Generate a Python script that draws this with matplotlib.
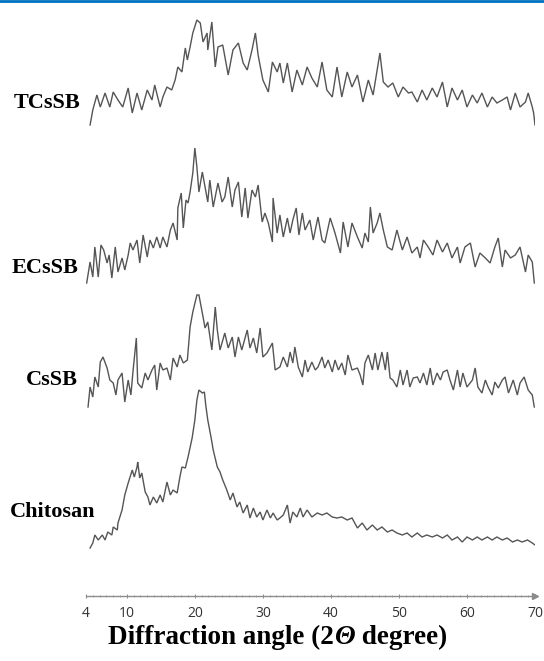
import matplotlib
matplotlib.use("Agg")
import matplotlib.pyplot as plt
from matplotlib.lines import Line2D
from matplotlib.ticker import MultipleLocator

# XRD patterns (2-theta in degrees, intensity in a.u.)
TCSSB_2T = [4.6, 5.0, 5.6, 6.1, 6.8, 7.5, 8.0, 8.7, 9.4, 10.2, 10.8, 11.5, 12.2, 13.0,
            13.7, 14.1, 14.9, 15.3, 15.9, 16.6, 17.1, 17.5, 18.1, 18.6, 18.9, 19.3,
            19.7, 20.3, 20.8, 21.2, 21.8, 21.9, 22.5, 23.0, 23.4, 24.1, 24.9, 25.6,
            26.4, 27.1, 27.7, 28.4, 28.9, 29.3, 30.0, 30.8, 31.4, 32.1, 32.5, 33.0,
            33.6, 34.3, 35.0, 35.8, 36.5, 37.2, 38.0, 38.7, 39.4, 40.2, 40.9, 41.6,
            42.4, 43.1, 43.9, 44.7, 45.5, 46.2, 47.2, 47.7, 48.4, 49.1, 49.9, 50.6,
            51.4, 51.9, 52.7, 53.4, 54.1, 54.9, 55.6, 56.4, 57.1, 57.8, 58.6, 59.3,
            60.0, 60.8, 61.5, 62.2, 63.0, 63.7, 64.4, 65.2, 65.9, 66.4, 67.1, 67.8,
            68.6, 69.0, 69.6, 69.8, 70.0]
TCSSB_I = [0, 15, 30, 18, 32, 18, 33, 25, 18, 37, 12, 32, 15, 35,
           25, 40, 18, 28, 38, 35, 45, 58, 53, 77, 65, 78,
           92, 105, 102, 83, 92, 75, 103, 58, 78, 80, 50, 75,
           82, 62, 55, 75, 92, 70, 45, 33, 63, 53, 62, 42,
           62, 33, 55, 40, 58, 47, 38, 63, 35, 28, 58, 28,
           53, 38, 50, 23, 45, 30, 72, 43, 38, 42, 28, 38,
           32, 33, 23, 35, 25, 37, 28, 43, 18, 37, 25, 35,
           18, 30, 22, 32, 18, 28, 22, 25, 28, 15, 32, 18,
           23, 32, 18, 12, 0]

ECSSB_2T = [4.1, 4.6, 5.0, 5.3, 5.8, 6.2, 6.6, 7.1, 7.4, 7.8, 8.3, 8.7, 9.3, 9.7,
            10.2, 10.5, 10.9, 11.5, 11.9, 12.4, 13.0, 13.4, 13.9, 14.4, 14.9, 15.3,
            15.9, 16.4, 16.8, 17.4, 17.5, 18.0, 18.3, 18.7, 19.0, 19.3, 19.7, 20.0,
            20.3, 20.6, 21.1, 21.5, 21.9, 22.2, 22.7, 23.4, 24.0, 24.4, 24.9, 25.5,
            25.9, 26.4, 26.9, 27.4, 27.8, 28.4, 28.9, 29.3, 29.9, 30.3, 30.8, 31.4,
            31.5, 32.1, 32.5, 33.0, 33.6, 34.0, 34.4, 34.9, 35.3, 35.8, 36.2, 36.9,
            37.4, 38.1, 38.7, 39.1, 39.9, 40.6, 41.4, 41.8, 42.5, 43.1, 43.9, 44.6,
            45.0, 45.5, 45.8, 46.2, 46.8, 47.2, 47.7, 48.3, 49.0, 49.7, 50.5, 51.2,
            51.9, 52.7, 53.1, 53.6, 54.3, 55.0, 55.6, 56.4, 57.1, 57.8, 58.6, 59.0,
            59.7, 60.5, 61.2, 61.9, 62.7, 63.4, 64.1, 64.6, 65.2, 65.6, 66.4, 67.1,
            67.8, 68.6, 69.0, 69.6, 69.9]
ECSSB_I = [0, 21, 6, 36, 6, 38, 33, 20, 28, 5, 36, 11, 25, 13,
           28, 40, 33, 43, 20, 48, 26, 43, 35, 46, 35, 46,
           36, 53, 60, 43, 75, 90, 55, 83, 80, 91, 110, 135,
           116, 91, 111, 96, 81, 103, 76, 100, 81, 86, 106, 76,
           93, 101, 66, 95, 65, 93, 86, 98, 61, 70, 60, 41,
           85, 50, 68, 46, 65, 50, 63, 75, 48, 70, 53, 63,
           43, 66, 43, 40, 65, 50, 30, 61, 36, 60, 46, 35,
           50, 41, 76, 50, 60, 70, 53, 36, 33, 53, 33, 46,
           30, 36, 25, 43, 36, 28, 43, 31, 40, 25, 36, 20,
           36, 40, 16, 30, 25, 20, 36, 45, 16, 33, 25, 28,
           36, 11, 28, 21, 0]

CSSB_2T = [4.3, 4.6, 5.0, 5.3, 5.8, 6.1, 6.5, 7.1, 7.5, 8.0, 8.4, 8.7, 9.3, 9.7,
           10.2, 10.6, 10.9, 11.4, 11.6, 12.2, 12.7, 13.1, 13.7, 14.1, 14.4, 14.9,
           15.3, 15.9, 16.4, 16.8, 17.4, 17.8, 18.3, 18.9, 19.3, 19.7, 20.3, 20.6,
           21.1, 21.5, 21.9, 22.5, 23.0, 23.3, 23.7, 24.4, 24.9, 25.5, 25.9, 26.4,
           26.9, 27.7, 28.1, 28.6, 29.1, 29.6, 30.0, 30.6, 31.4, 31.8, 32.5, 33.0,
           33.6, 34.0, 34.4, 34.7, 35.2, 35.8, 36.2, 36.6, 37.2, 37.7, 38.1, 38.7,
           39.1, 39.6, 40.2, 40.6, 41.1, 41.6, 42.1, 42.5, 43.1, 43.9, 44.3, 44.7,
           45.0, 45.5, 46.1, 46.5, 46.9, 47.5, 48.0, 48.3, 48.7, 49.1, 49.7, 50.2,
           50.6, 51.2, 51.6, 52.1, 52.7, 53.1, 53.6, 54.1, 54.6, 55.0, 55.6, 56.1,
           56.5, 57.1, 57.5, 58.0, 58.6, 59.0, 59.4, 60.0, 60.8, 61.2, 61.6, 62.2,
           62.7, 63.1, 63.7, 64.1, 64.6, 65.2, 65.6, 66.1, 66.8, 67.4, 67.8, 68.4,
           69.0, 69.6, 69.9]
CSSB_I = [0, 20, 10, 30, 20, 45, 50, 39, 27, 24, 12, 27, 34, 5,
          27, 12, 35, 69, 24, 19, 34, 27, 37, 42, 17, 44,
          37, 39, 27, 49, 40, 52, 44, 47, 80, 95, 112, 112,
          94, 79, 85, 57, 100, 77, 57, 74, 59, 70, 50, 70,
          57, 77, 59, 69, 54, 79, 50, 54, 64, 37, 40, 50,
          40, 55, 44, 60, 40, 30, 47, 35, 45, 37, 40, 50,
          39, 47, 35, 47, 37, 44, 32, 52, 37, 39, 32, 22,
          44, 52, 37, 54, 37, 55, 37, 55, 29, 27, 20, 37,
          22, 37, 20, 29, 30, 24, 34, 22, 39, 22, 34, 27,
          35, 37, 27, 17, 37, 20, 34, 20, 27, 39, 20, 14,
          27, 20, 12, 25, 19, 27, 30, 14, 27, 12, 24, 30,
          17, 12, 0]

CHITOSAN_2T = [4.6, 5.0, 5.3, 5.8, 6.4, 6.8, 7.2, 7.8, 8.0, 8.6, 8.7, 9.3, 9.7, 10.2,
               10.8, 11.1, 11.5, 11.6, 11.9, 12.2, 12.7, 13.1, 13.4, 13.9, 14.4, 14.9,
               15.3, 15.9, 16.4, 16.8, 17.4, 17.8, 18.1, 18.6, 19.0, 19.6, 20.0, 20.3,
               20.6, 21.1, 21.4, 21.6, 21.9, 22.4, 22.7, 23.3, 23.7, 24.1, 24.7, 25.2,
               25.6, 26.2, 26.6, 27.1, 27.7, 28.1, 28.6, 29.1, 29.6, 30.0, 30.6, 31.1,
               31.5, 32.1, 32.5, 33.0, 33.6, 34.0, 34.4, 35.0, 35.5, 35.9, 36.5, 37.2,
               38.0, 38.7, 39.4, 40.2, 40.9, 41.6, 42.4, 43.1, 43.9, 44.6, 45.3, 46.1,
               46.8, 47.5, 48.3, 49.0, 49.7, 50.5, 51.2, 51.9, 52.7, 53.4, 54.1, 54.9,
               55.6, 56.4, 57.1, 57.8, 58.6, 59.3, 60.0, 60.8, 61.5, 62.2, 63.0, 63.7,
               64.4, 65.2, 65.9, 66.7, 67.4, 68.1, 68.9, 69.6, 70.0]
CHITOSAN_I = [0, 5, 13, 8, 13, 8, 16, 13, 21, 18, 25, 38, 53, 65,
              78, 71, 81, 86, 70, 75, 56, 51, 43, 51, 45, 53,
              46, 66, 53, 58, 55, 71, 81, 80, 91, 110, 128, 148,
              158, 155, 156, 143, 128, 110, 98, 81, 76, 68, 58, 48,
              55, 41, 46, 35, 43, 30, 40, 31, 36, 28, 38, 30,
              35, 28, 30, 33, 43, 25, 36, 31, 40, 31, 38, 31,
              35, 33, 35, 31, 30, 31, 28, 30, 20, 25, 18, 23,
              18, 21, 16, 18, 15, 13, 15, 11, 15, 11, 13, 11,
              13, 10, 13, 8, 11, 6, 11, 8, 11, 8, 11, 8,
              11, 8, 10, 6, 8, 6, 8, 5, 3]

SAMPLES = ["TCsSB", "ECsSB", "CsSB", "Chitosan"]
ANGLES = [TCSSB_2T, ECSSB_2T, CSSB_2T, CHITOSAN_2T]
INTENSITIES = [TCSSB_I, ECSSB_I, CSSB_I, CHITOSAN_I]

# vertical stacking of the patterns and where each name sits (figure fractions)
OFFSETS = [471, 313, 189, 48]
LABEL_POS = [(0.086, 0.844), (0.083, 0.595), (0.096, 0.425), (0.096, 0.225)]

XTICKS = [4, 10, 20, 30, 40, 50, 60, 70]
LINE_COL = "#555555"
AXIS_COL = "#8c8c8c"

plt.rcParams["mathtext.fontset"] = "custom"
plt.rcParams["mathtext.it"] = "Liberation Serif:italic:bold"
plt.rcParams["mathtext.rm"] = "Liberation Serif:bold"

fig = plt.figure(figsize=(5.44, 6.61), dpi=100)
ax = fig.add_axes([86 / 544, 65 / 661, 449 / 544, 596 / 661])

for name, tt, ii, off in zip(SAMPLES, ANGLES, INTENSITIES, OFFSETS):
    ax.plot(tt, [off + v for v in ii], color=LINE_COL, lw=1.0, solid_joinstyle="miter")

ax.set_xlim(4, 70)
ax.set_ylim(0, 596)
for s in ["top", "right", "left"]:
    ax.spines[s].set_visible(False)
ax.spines["bottom"].set_color(AXIS_COL)
ax.spines["bottom"].set_linewidth(1.0)
ax.set_yticks([])
ax.set_xticks(XTICKS)
ax.set_xticklabels([str(t) for t in XTICKS], fontsize=10, family="Open Sans",
                   color="#333333")
ax.xaxis.set_minor_locator(MultipleLocator(1))
ax.tick_params(axis="x", which="major", direction="inout", length=3, width=0.7,
               color=AXIS_COL, pad=6)
ax.tick_params(axis="x", which="minor", direction="inout", length=2, width=0.5,
               color=AXIS_COL)
ax.plot([70], [0], marker=">", ms=4, color=AXIS_COL, clip_on=False)

for name, (lx, ly) in zip(SAMPLES, LABEL_POS):
    fig.text(lx, ly, name, ha="center", va="center", fontsize=16,
             family="Liberation Serif", fontweight="bold")

# axis title in three pieces so the theta can be italic
title_parts = [("Diffraction angle (2", "normal"), ("\u0398", "italic"),
               (" degree)", "normal")]
renderer = fig.canvas.get_renderer()
pieces = []
for txt, style in title_parts:
    pieces.append(fig.text(0, 0.035, txt, ha="left", va="center", fontsize=19.5,
                           family="Liberation Serif", fontweight="bold",
                           style=style))
widths = [p.get_window_extent(renderer).width for p in pieces]
x0 = 0.51 * 544 - sum(widths) / 2
for p, w in zip(pieces, widths):
    p.set_x(x0 / 544)
    x0 += w

# thin blue rule along the top edge
fig.add_artist(Line2D([0, 1], [0.9985, 0.9985], transform=fig.transFigure,
                      color="#0070C0", lw=2))

fig.savefig("out.png", dpi=100)
